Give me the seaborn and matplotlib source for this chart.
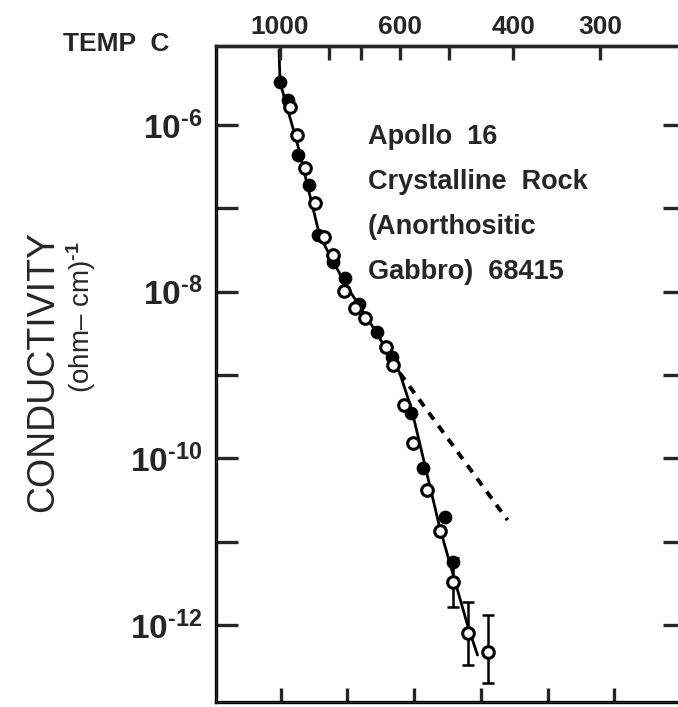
import numpy as np
import pandas as pd
import matplotlib
matplotlib.use("Agg")
import matplotlib.pyplot as plt
import seaborn as sns
from matplotlib.ticker import FixedLocator, FixedFormatter, NullLocator

sns.set_style("ticks")
plt.rcParams["font.family"] = ["Liberation Sans", "DejaVu Sans"]
plt.rcParams["mathtext.fontset"] = "custom"
plt.rcParams["mathtext.rm"] = "Liberation Sans:bold"
plt.rcParams["mathtext.it"] = "Liberation Sans:bold"
plt.rcParams["mathtext.bf"] = "Liberation Sans:bold"

# x: reciprocal temperature 1000/T (K^-1); y: log10 conductivity (ohm-cm)^-1
open_x = [0.816, 0.837, 0.860, 0.890, 0.917, 0.944, 0.977, 1.010, 1.040,
          1.103, 1.124, 1.157, 1.184, 1.226, 1.265, 1.304, 1.348, 1.408]
open_logsig = [-5.784, -6.120, -6.516, -6.936, -7.344, -7.560, -7.992, -8.196,
               -8.316, -8.664, -8.880, -9.360, -9.816, -10.380, -10.872,
               -11.484, -12.096, -12.324]

filled_x = [0.786, 0.810, 0.839, 0.872, 0.899, 0.944, 0.980, 1.022, 1.076,
            1.121, 1.178, 1.214, 1.280, 1.304]
filled_logsig = [-5.484, -5.700, -6.360, -6.720, -7.320, -7.644, -7.836,
                 -8.148, -8.484, -8.784, -9.456, -10.116, -10.704, -11.244]

# fitted conduction curve
fit_x = [0.783, 0.786, 0.839, 0.905, 0.980, 1.076, 1.145, 1.181, 1.265,
         1.348, 1.378]
fit_logsig = [-5.10, -5.484, -6.24, -7.332, -7.896, -8.496, -8.976, -9.420,
              -10.836, -12.00, -12.36]

# extrapolation of the intermediate-temperature branch
extrap_x = [1.145, 1.468]
extrap_logsig = [-8.976, -10.74]

# low-temperature points with error bars
err_x = [1.304, 1.348, 1.408]
err_logsig = [-11.484, -12.096, -12.324]
err_low = [-11.784, -12.48, -12.696]
err_high = [-11.20, -11.724, -11.88]

temp_ticks_c = [1000, 800, 700, 600, 500, 400, 300]
temp_labels = ["1000", "", "", "600", "", "400", "300"]
y_decades = [-6, -7, -8, -9, -10, -11, -12]

HY = "\u2010"  # short hyphen for exponents

W, H = 678, 707
fig = plt.figure(figsize=(W / 100, H / 100), dpi=100)

left_px, right_px, top_px, bottom_px = 216, 685, 46, 702
ax = fig.add_axes([left_px / W, 1 - bottom_px / H,
                   (right_px - left_px) / W, (bottom_px - top_px) / H])

ax.set_yscale("log")
ax.set_xlim(0.594, 2.0)
ax.set_ylim(10 ** -12.924, 10 ** -5.05)

fit_df = pd.DataFrame({"x": fit_x, "sigma": 10 ** np.array(fit_logsig)})
sns.lineplot(data=fit_df, x="x", y="sigma", ax=ax, color="black", lw=2.0,
             sort=False, estimator=None)

ext_df = pd.DataFrame({"x": extrap_x, "sigma": 10 ** np.array(extrap_logsig)})
sns.lineplot(data=ext_df, x="x", y="sigma", ax=ax, color="black", lw=2.8,
             sort=False, estimator=None)
ax.lines[-1].set_dashes([2.2, 2.0])

# error bars
sig = 10 ** np.array(err_logsig)
lo = sig - 10 ** np.array(err_low)
hi = 10 ** np.array(err_high) - sig
ax.errorbar(err_x, sig, yerr=[lo, hi], fmt="none", ecolor="black",
            elinewidth=1.8, capsize=4, capthick=1.8, zorder=2)

filled_df = pd.DataFrame({"x": filled_x, "sigma": 10 ** np.array(filled_logsig)})
open_df = pd.DataFrame({"x": open_x, "sigma": 10 ** np.array(open_logsig)})
sns.scatterplot(data=filled_df, x="x", y="sigma", ax=ax, s=70, color="black",
                edgecolor="black", linewidth=1.5, zorder=4)
sns.scatterplot(data=open_df, x="x", y="sigma", ax=ax, s=70, color="white",
                edgecolor="black", linewidth=2.2, zorder=5)

ax.set_xlabel("")
ax.set_ylabel("")

# bottom axis: unlabeled ticks
ax.xaxis.set_major_locator(FixedLocator([0.788 + 0.2 * k for k in range(6)]))
ax.xaxis.set_minor_locator(NullLocator())
ax.tick_params(axis="x", which="major", direction="in", length=10, width=2.4,
               labelbottom=False, top=False)

# left/right: decade ticks, even decades labelled
ax.yaxis.set_major_locator(FixedLocator([10.0 ** d for d in y_decades]))
ax.yaxis.set_minor_locator(NullLocator())
ax.yaxis.set_major_formatter(FixedFormatter(
    [f"$10^{{{HY}{abs(d)}}}$" if d % 2 == 0 else "" for d in y_decades]))
ax.tick_params(axis="y", which="major", direction="in", length=16, width=2.4,
               right=True, labelsize=24, pad=10)

for s in ax.spines.values():
    s.set_linewidth(2.4)
    s.set_color("black")

# top axis: temperature in Celsius on the reciprocal scale
top = ax.twiny()
top.set_xlim(ax.get_xlim())
top.xaxis.set_major_locator(FixedLocator([1000.0 / (t + 273.15) for t in temp_ticks_c]))
top.xaxis.set_major_formatter(FixedFormatter(temp_labels))
top.xaxis.set_minor_locator(NullLocator())
top.tick_params(axis="x", direction="in", length=10, width=2.4, labelsize=19,
                pad=5)
for lab in top.get_xticklabels():
    lab.set_fontweight("bold")
top.spines["top"].set_linewidth(2.4)


def fpos(x, y):
    return x / W, 1 - y / H


fig.text(*fpos(116, 44), "TEMP  C", fontsize=19, fontweight="bold",
         ha="center", va="center")

fig.text(*fpos(43, 372), "CONDUCTIVITY", fontsize=27, rotation=90,
         ha="center", va="center")
fig.text(*fpos(81, 317), f"(ohm\u2013 cm)$^{{{HY}1}}$", fontsize=20,
         rotation=90, ha="center", va="center")

lines = ["Apollo  16", "Crystalline  Rock", "(Anorthositic", "Gabbro)  68415"]
for i, t in enumerate(lines):
    fig.text(*fpos(368, 137 + 45 * i), t, fontsize=19.5, fontweight="bold",
             ha="left", va="center")

fig.savefig("out.png", dpi=100)
